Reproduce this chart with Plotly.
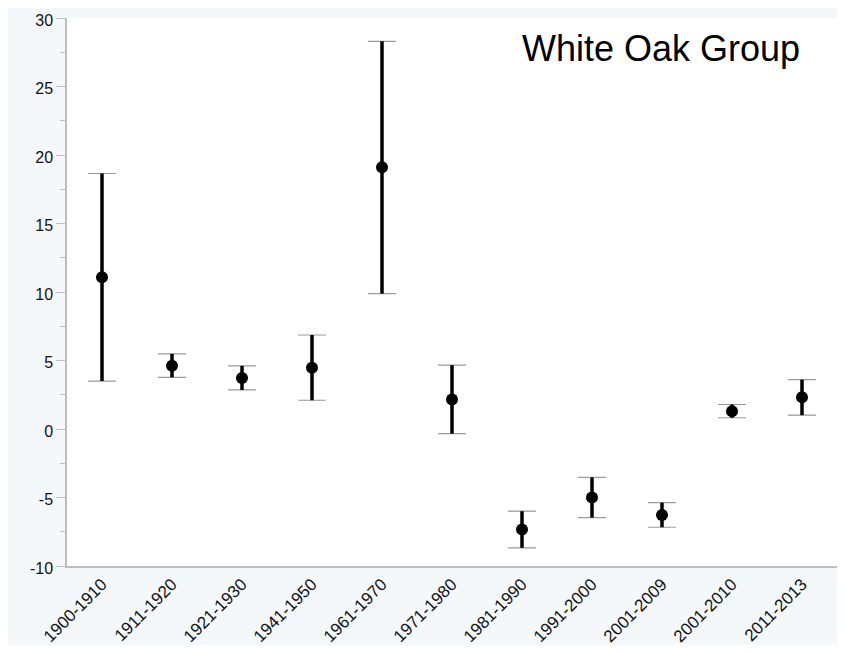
import plotly.graph_objects as go

categories = ["1900-1910", "1911-1920", "1921-1930", "1941-1950", "1961-1970",
              "1971-1980", "1981-1990", "1991-2000", "2001-2009", "2001-2010", "2011-2013"]
means = [11.07, 4.61, 3.72, 4.47, 19.1, 2.15, -7.33, -5.0, -6.28, 1.30, 2.32]
upper = [18.65, 5.48, 4.61, 6.86, 28.3, 4.66, -6.0, -3.53, -5.38, 1.79, 3.60]
lower = [3.50, 3.77, 2.85, 2.10, 9.88, -0.34, -8.67, -6.47, -7.17, 0.82, 1.01]
y_tickvals = [-10, -5, 0, 5, 10, 15, 20, 25, 30]
y_ticktext = ["-10", "-5", "0", "5", "10", "15", "20", "25", "30"]
y_minor = [-7.5, -2.5, 2.5, 7.5, 12.5, 17.5, 22.5, 27.5]

err_plus = [u - m for u, m in zip(upper, means)]
err_minus = [m - l for m, l in zip(means, lower)]

FONT = "Liberation Sans, Arial, Helvetica, sans-serif"

fig = go.Figure()
# caps (thin gray)
fig.add_trace(go.Scatter(
    x=categories, y=means, mode="markers",
    marker=dict(size=1, color="rgba(0,0,0,0)"),
    error_y=dict(type="data", symmetric=False, array=err_plus, arrayminus=err_minus,
                 color="#9a9a9a", thickness=1.2, width=14),
    showlegend=False, hoverinfo="skip"))
# bars + points (thick black)
fig.add_trace(go.Scatter(
    x=categories, y=means, mode="markers",
    marker=dict(size=12, color="black"),
    error_y=dict(type="data", symmetric=False, array=err_plus, arrayminus=err_minus,
                 color="black", thickness=3.5, width=0),
    showlegend=False))

fig.add_annotation(text="White Oak Group", xref="paper", yref="paper",
                   x=0.955, y=0.945, xanchor="right", yanchor="middle", showarrow=False,
                   font=dict(family=FONT, size=36, color="black"))

fig.update_layout(
    width=829, height=637,
    margin=dict(l=59, r=0, t=10, b=79, autoexpand=False),
    paper_bgcolor="#f4f8fb", plot_bgcolor="white",
    font=dict(family=FONT, size=16, color="#111"),
    xaxis=dict(type="category", range=[-0.5, 10.5], showgrid=False, zeroline=False,
               showline=True, linecolor="#bdbdbd", linewidth=1.5, ticks="",
               tickangle=-45, automargin=False, ticklabeloverflow="allow",
               tickfont=dict(size=17, color="#111")),
    yaxis=dict(range=[-10, 30], tickvals=y_tickvals, ticktext=y_ticktext,
               showgrid=False, zeroline=False, showline=True, linecolor="#bdbdbd",
               linewidth=1.5, ticks="outside", ticklen=9, tickcolor="#bdbdbd",
               automargin=False, ticklabeloverflow="allow", ticklabelshift=2,
               tickfont=dict(size=16, color="#111"),
               minor=dict(tickvals=y_minor, ticks="outside", ticklen=5,
                          tickcolor="#bdbdbd", showgrid=False)),
)

fig.write_html("out.html")
